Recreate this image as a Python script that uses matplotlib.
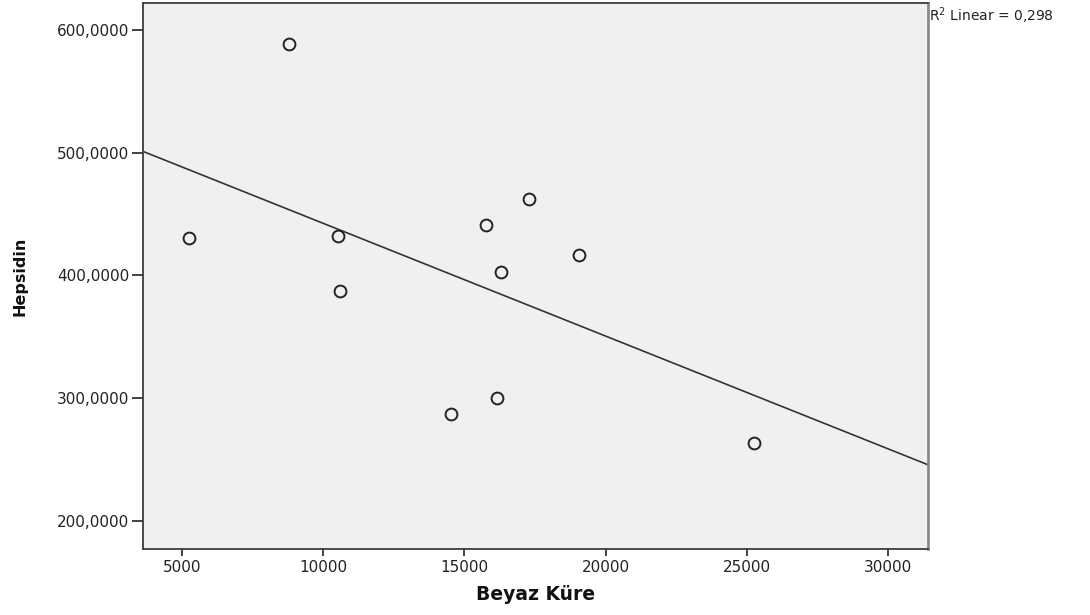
import numpy as np
import matplotlib
matplotlib.use("Agg")
import matplotlib.pyplot as plt
from matplotlib.ticker import FuncFormatter

# Beyaz küre vs hepsidin
beyaz_kure = [5248, 8788, 10512, 10604, 14512, 15751, 16140, 16293, 17294, 19064, 25259]
hepsidin = [430.5, 588.4, 432.4, 387.4, 287.2, 441.1, 300.0, 403.1, 462.1, 416.9, 263.3]
r2_linear = 0.298

x_ticks = [5000, 10000, 15000, 20000, 25000, 30000]
y_ticks = [200, 300, 400, 500, 600]
x_lim = (3620, 31420)
y_lim = (177, 622)

x = np.array(beyaz_kure, dtype=float)
y = np.array(hepsidin, dtype=float)
slope, intercept = np.polyfit(x, y, 1)

fig = plt.figure(figsize=(10.9, 6.15), dpi=100)
ax = fig.add_axes([143 / 1090, 66 / 615, 785 / 1090, 546 / 615])
ax.set_facecolor("#f0f0f0")

# fit line across the full x range
xs = np.array(x_lim)
ax.plot(xs, slope * xs + intercept, color="#333333", lw=1.2, zorder=2)
ax.plot(x, y, linestyle="none", marker="o", ms=8.5, mew=1.4,
        mfc="#f0f0f0", mec="#222222", zorder=3)

ax.set_xlim(*x_lim)
ax.set_ylim(*y_lim)
ax.set_xticks(x_ticks)
ax.set_yticks(y_ticks)
ax.yaxis.set_major_formatter(FuncFormatter(lambda v, p: f"{v:.4f}".replace(".", ",")))

ax.tick_params(axis="both", direction="out", colors="#333333", labelcolor="#222222",
               labelsize=11, width=1.3)
ax.tick_params(axis="y", length=8, pad=2)
ax.tick_params(axis="x", length=5, pad=3)

for side in ["left", "bottom", "top"]:
    ax.spines[side].set_color("#3c3c3c")
    ax.spines[side].set_linewidth(1.3)
ax.spines["right"].set_color("#8c8c8c")
ax.spines["right"].set_linewidth(2)

ax.set_xlabel("Beyaz Küre", fontsize=13.5, fontweight="bold", color="#111111")
ax.xaxis.set_label_coords(0.5, -0.083)
ax.xaxis.label.set_va("center")

ax.set_ylabel("Hepsidin", fontsize=11.5, fontweight="bold", color="#111111")
ax.yaxis.set_label_coords(-0.157, 0.5)
ax.yaxis.label.set_va("center")

fig.text(929 / 1090, 1 - 5 / 615, r"R$^2$ Linear = " + f"{r2_linear:.3f}".replace(".", ","),
         fontsize=10, color="#222222", ha="left", va="top")

fig.savefig("out.png", dpi=100)
